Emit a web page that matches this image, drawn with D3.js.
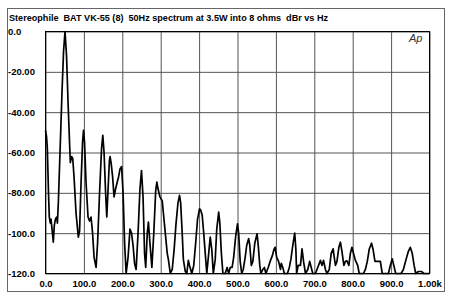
<!DOCTYPE html>
<html><head><meta charset="utf-8">
<script src="https://cdn.jsdelivr.net/npm/d3@7"></script>
<style>
html,body{margin:0;padding:0;background:#fff;}
svg{display:block;}
text{font-family:"Liberation Sans",Arial,sans-serif;}
</style></head>
<body>
<svg id="c" width="450" height="297"></svg>
<script>
const titleText = "Stereophile  BAT VK-55 (8)  50Hz spectrum at 3.5W into 8 ohms  dBr vs Hz";
const xTickValues = [0,100,200,300,400,500,600,700,800,900,1000];
const xTickLabels = ["0.0","100.0","200.0","300.0","400.0","500.0","600.0","700.0","800.0","900.0","1.00k"];
const yTickValues = [0,-20,-40,-60,-80,-100,-120];
const yTickLabels = ["0.0","-20.00","-40.00","-60.00","-80.00","-100.0","-120.0"];

const freqHz = [0,2.6,4.7,7.8,9.9,12.5,14.3,17,20.3,23,26,29.2,31,33.4,37.8,43,47,50.8,54.8,58.7,62.6,64.7,67.8,70.9,74.3,79.5,85.5,88.7,92.6,96.5,99,101.7,105.6,110.8,114.7,118.6,122.6,126.5,131.7,135.6,140.8,146,149.2,152.5,156.5,159.6,163,166.4,168.2,170.8,174.7,178.6,182.5,186.4,190.4,194.3,198.2,202,206,210,215,220,224,228,232,236,241,246,250,254,258,261,265,268,272,277,282,287,290,293,298,304,308,312,317,320,325,330,335,340,345,349,352,356,359,364,368,372,375,381,386,391,396,401,404,408,412,416,420,425,429,433,437,442,446,451,454,458,462,468,473,477,481,486,490,495,500,503,507,511,515,520,524,529,532,536,540,545,551,554,558,561,566,570,574,580,585,591,595,598,602,607,612,614,618,622,630,635,639,644,649,652,654,658,664,668,672,677,683,688,692,696,703,709,716,720,724,729,733,739,744,749,752,755,759,764,768,772,777,781,785,790,794,798,802,807,813,817,828,833,838,843,849,853,858,862,867,872,877,893,898,903,907,912,926,932,939,945,950,955,960,964,971,979,985,1000];
const levelDb = [-49,-52,-57.5,-80,-92,-95,-93,-98,-104.5,-96,-93,-92,-95,-85,-60,-30,-10,0,-12,-35,-55,-65,-62,-63,-72,-90,-102,-99,-75,-55,-49,-55,-75,-92,-94,-92,-100,-112,-117,-105,-80,-58,-51.5,-60,-80,-92,-78,-64,-62,-65,-72,-82,-78,-75,-72,-68,-67,-80,-105,-120,-112,-98,-100,-106,-115,-118,-100,-78,-69,-82,-110,-117,-100,-94.5,-105,-117,-100,-79,-74.7,-78,-82,-84,-92,-100,-110,-113,-120,-118,-108,-95,-85,-81.3,-85,-100,-113,-119,-120,-113.5,-116,-120,-116,-105,-93,-88,-88.5,-91,-100,-110,-120,-110,-102,-108,-120,-113,-98,-89.6,-95,-110,-120,-120,-117,-120,-117,-117,-112,-102,-95.4,-100,-114,-120,-118,-112,-106,-102.7,-106,-116,-114,-105,-100.3,-106,-116,-120,-118,-117,-120,-117,-114,-111,-108,-107,-112,-114,-118,-115,-117,-120,-120,-117,-113,-106,-100,-108,-120,-116,-116,-107.8,-114,-120,-118,-114,-117,-120,-120,-117,-113.5,-116,-113.5,-118,-120,-118,-110,-107.8,-112,-116,-114,-107,-104.5,-109,-116,-114,-113.7,-116,-110,-107,-110,-113.5,-116,-120,-120,-118,-114,-108,-105,-108,-114,-114,-114,-114,-120,-120,-116,-112.7,-116,-120,-120,-118,-113,-109,-107,-110,-116,-120,-119,-119,-120,-120];

const svg = d3.select("#c");
const x = d3.scaleLinear().domain([0,1000]).range([45.5,429.5]);
const y = d3.scaleLinear().domain([-120,0]).range([273.5,31.5]);

// outer frame
svg.append("rect").attr("x",7.5).attr("y",8.5).attr("width",437).attr("height",283)
  .attr("fill","#fff").attr("stroke","#666").attr("stroke-width",1);

// title
svg.append("text").attr("x",9).attr("y",21).attr("font-size",9.5).attr("font-weight","bold")
  .attr("textLength",319).attr("lengthAdjust","spacingAndGlyphs").attr("fill","#000")
  .style("white-space","pre")
  .text(titleText);

// grid via axes
const gx = svg.append("g").attr("transform",`translate(0,${y(-120)})`)
  .call(d3.axisBottom(x).tickValues(xTickValues).tickSize(-(y(-120)-y(0)))
    .tickFormat((d,i)=>xTickLabels[i]).tickPadding(7));
gx.select(".domain").remove();
gx.selectAll("line").attr("stroke","#555");
gx.selectAll("text").attr("font-size",9.5).attr("font-weight","bold").attr("fill","#000");

const gy = svg.append("g").attr("transform",`translate(${x(0)},0)`)
  .call(d3.axisLeft(y).tickValues(yTickValues).tickSize(-(x(1000)-x(0)))
    .tickFormat((d,i)=>yTickLabels[i]).tickPadding(0));
gy.select(".domain").remove();
gy.selectAll("line").attr("stroke","#555");
gy.selectAll("text").attr("font-size",9.5).attr("font-weight","bold").attr("fill","#000")
  .attr("text-anchor","start").attr("x",8-x(0));

// plot border
svg.append("rect").attr("x",x(0)).attr("y",y(0)).attr("width",x(1000)-x(0)).attr("height",y(-120)-y(0))
  .attr("fill","none").attr("stroke","#000").attr("stroke-width",1);

// Ap logo
svg.append("text").attr("x",409).attr("y",42).attr("font-size",11).attr("font-style","italic")
  .attr("fill","#333").text("Ap");

// trace
const pts = freqHz.map((f,i)=>[f,levelDb[i]]);
const line = d3.line().x(d=>x(d[0])).y(d=>y(d[1]));
svg.append("path").datum(pts).attr("d",line)
  .attr("fill","none").attr("stroke","#000").attr("stroke-width",1.7).attr("stroke-linejoin","round");
</script>
</body></html>
